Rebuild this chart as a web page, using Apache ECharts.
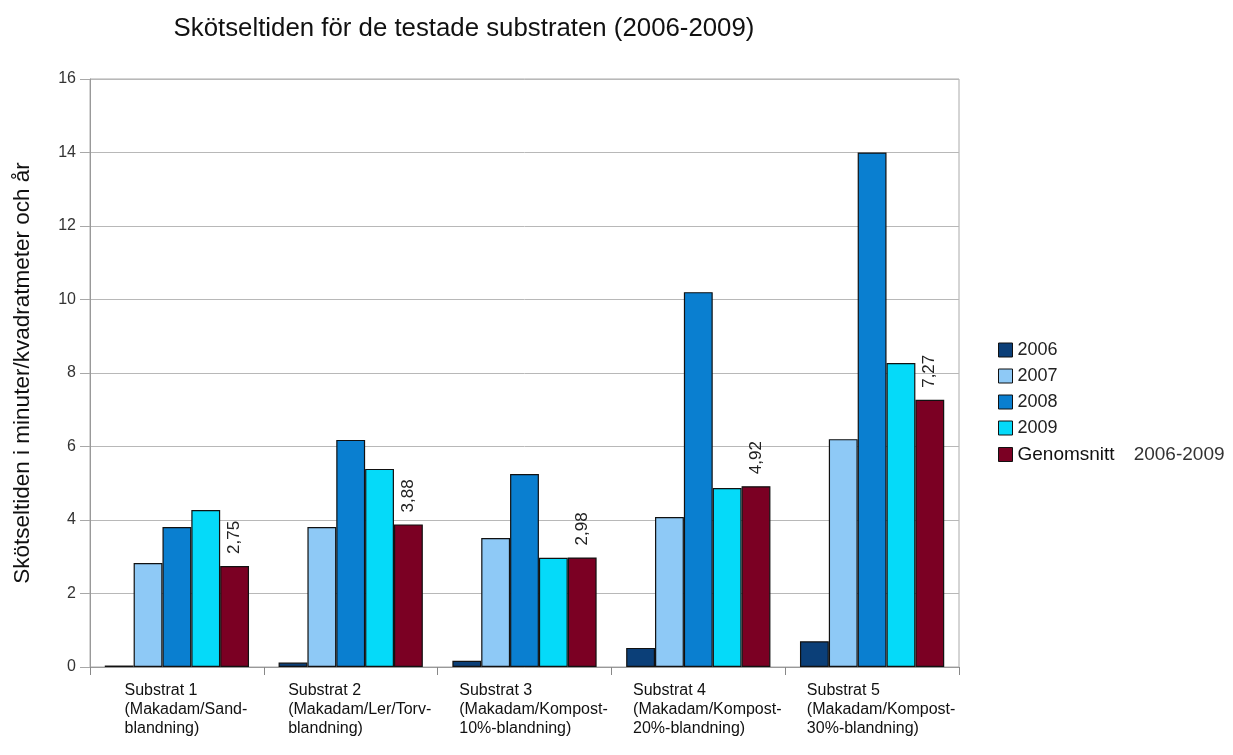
<!DOCTYPE html>
<html><head><meta charset="utf-8">
<script src="https://cdn.jsdelivr.net/npm/echarts@6/dist/echarts.min.js"></script>
<style>html,body{margin:0;padding:0;background:#fff}#c{width:1233px;height:755px}</style>
</head><body><div id="c"></div>
<script>
const categories = [
  ['Substrat 1','(Makadam/Sand-','blandning)'],
  ['Substrat 2','(Makadam/Ler/Torv-','blandning)'],
  ['Substrat 3','(Makadam/Kompost-','10%-blandning)'],
  ['Substrat 4','(Makadam/Kompost-','20%-blandning)'],
  ['Substrat 5','(Makadam/Kompost-','30%-blandning)']
];
const seriesNames = ['2006','2007','2008','2009','Genomsnitt'];
const avgSuffix = '2006-2009';
const v2006 = [0.04, 0.12, 0.17, 0.52, 0.70];
const v2007 = [2.83, 3.81, 3.51, 4.08, 6.20];
const v2008 = [3.81, 6.18, 5.25, 10.20, 14.00];
const v2009 = [4.27, 5.39, 2.97, 4.87, 8.27];
const vAvg  = [2.75, 3.88, 2.98, 4.92, 7.27];
const yTicks = [0,2,4,6,8,10,12,14,16];
const colors = ['#0b3f78','#8ec9f6','#0a7fd0','#05daf9','#7b0023'];

const FF = 'Liberation Sans, Arial';
const chart = echarts.init(document.getElementById('c'));
const data = [v2006, v2007, v2008, v2009, vAvg];
const series = data.map((d,i)=>({
  name: seriesNames[i], type:'bar', data:d,
  barGap:'0%', barCategoryGap:'17%',
  itemStyle:{color:colors[i], borderColor:'#111', borderWidth:1.2},
  label: i===4 ? {show:true, position:'top', rotate:90, align:'left', verticalAlign:'middle', distance:12,
    fontFamily:FF, fontSize:17, color:'#222',
    formatter:p=>p.value.toFixed(2).replace('.',',')} : {show:false}
}));
chart.setOption({
  animation:false,
  title:{text:'Skötseltiden för de testade substraten (2006-2009)', left:459, textAlign:'center', top:11,
    textStyle:{fontFamily:FF, fontSize:25.8, fontWeight:'normal', color:'#111'}},
  legend:{orient:'vertical', left:993, top:336, itemWidth:14, itemHeight:14, itemGap:8,
    icon:'rect',
    itemStyle:{borderColor:'#111', borderWidth:1},
    textStyle:{fontFamily:FF, fontSize:18, lineHeight:18, color:'#222',
      rich:{a:{fontFamily:FF, fontSize:19, lineHeight:18, color:'#111'},
            b:{fontFamily:FF, fontSize:19, lineHeight:18, color:'#333', padding:[0,0,0,19]}}},
    formatter:n=> n==='Genomsnitt' ? '{a|'+n+'}{b|'+avgSuffix+'}' : n,
    data: seriesNames},
  grid:{left:90, right:274, top:79, bottom:88, show:true, borderColor:'#aaa', borderWidth:1},
  xAxis:{type:'category', data:categories.map(c=>c.join('\n')),
    axisLine:{lineStyle:{color:'#999'}},
    axisTick:{show:true, length:8, lineStyle:{color:'#888'}},
    axisLabel:{margin:14, interval:0, fontFamily:FF, fontSize:16, color:'#111', lineHeight:19, padding:[0,0,0,18],
      formatter:v=>v.split('\n').map(s=>'{a|'+s+'}').join('\n'),
      rich:{a:{align:'left', fontFamily:FF, fontSize:16, color:'#111', lineHeight:19}}}},
  yAxis:{type:'value', min:0, max:16, interval:2,
    name:'Skötseltiden i minuter/kvadratmeter och år', nameLocation:'middle', nameGap:56, nameRotate:90,
    nameTextStyle:{fontFamily:FF, fontSize:22.5, color:'#111'},
    axisLine:{show:true, lineStyle:{color:'#999'}},
    axisTick:{show:true, inside:false, length:10, lineStyle:{color:'#a8a8a8', width:1}},
    splitLine:{lineStyle:{color:'#b8b8b8'}},
    axisLabel:{margin:14, fontFamily:FF, fontSize:16, color:'#333',
      formatter:v=>yTicks.includes(v)?String(v):''}},
  series
});
</script></body></html>
